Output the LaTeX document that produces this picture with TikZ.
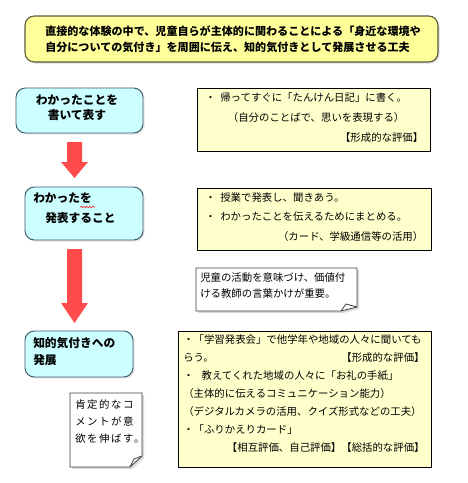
\documentclass[tikz,border=0pt]{standalone}
\usepackage{fontspec}
\newfontfamily\jp{Noto Sans CJK JP}
\usetikzlibrary{fit,shadows,decorations.pathmorphing}

\definecolor{titlefill}{HTML}{FFFF99}
\definecolor{titleline}{HTML}{5A5A3C}
\definecolor{notefill}{HTML}{FFFFCC}
\definecolor{stagefill}{HTML}{CCFFFF}
\definecolor{stageline}{HTML}{3D5866}
\definecolor{arrowred}{HTML}{FF4B4B}

\tikzset{
    titlebox/.style={draw=titleline, fill=titlefill, rounded corners=7pt, line width=0.8pt,
        inner sep=0pt, drop shadow={shadow xshift=1.2pt, shadow yshift=-1.2pt, fill=black!25}},
    stagebox/.style={draw=stageline, fill=stagefill, rounded corners=7pt, line width=0.7pt,
        inner sep=0pt, drop shadow={shadow xshift=1.2pt, shadow yshift=-1.2pt, fill=black!20}},
    notebox/.style={draw=black, fill=notefill, line width=0.6pt, inner sep=0pt},
    memo/.style={draw=black!75, fill=white, line width=0.6pt,
        drop shadow={shadow xshift=1.5pt, shadow yshift=-1.5pt, fill=black!30}},
    stagetext/.style={inner sep=0pt, font=\jp\bfseries\fontsize{8.8}{11.5}\selectfont},
    notetext/.style={inner sep=0pt, align=left, font=\jp\fontsize{7.8}{14.7}\selectfont},
    bigarrow/.style={fill=arrowred}
}

\begin{document}
\begin{tikzpicture}[x=0.75pt,y=-0.75pt]
    \useasboundingbox (0,0) rectangle (468,483);

    % title
    \node[titlebox, fit={(25,16) (438,62)}] (title) {};
    \node[inner sep=0pt, align=left, font=\jp\bfseries\fontsize{8.3}{12}\selectfont] (titletext) at (233,39)
        {直接的な体験の中で、児童自らが主体的に関わることによる「身近な環境や\\
         自分についての気付き」を周囲に伝え、知的気付きとして発展させる工夫};

    % stages on the left
    \node[stagebox, fit={(16,88) (143,133)}] (stage1) {};
    \node[stagetext, align=center] (stage1text) at (77,108) {わかったことを\\書いて表す};
    \node[stagebox, fit={(25,187) (143,240)}] (stage2) {};
    \node[stagetext, align=left, font=\jp\bfseries\fontsize{8.8}{15}\selectfont, anchor=west] (stage2text) at (33,208)
        {わかったを\\\hspace*{9pt}発表すること};
    \draw[red, line width=0.4pt, decorate, decoration={snake, amplitude=0.5pt, segment length=2.2pt}]
        (80,207) -- (95,207);
    \node[stagebox, fit={(25,331) (133,377)}] (stage3) {};
    \node[stagetext, align=left, font=\jp\bfseries\fontsize{8.8}{12.8}\selectfont, anchor=west] (stage3text) at (33,351.5)
        {知的気付きへの\\発展};

    % block arrows
    \fill[bigarrow] (67,142) -- (82,142) -- (82,162) -- (88,162) -- (74.5,178) -- (61,162) -- (67,162) -- cycle;
    \fill[bigarrow] (67,249) -- (82,249) -- (82,303) -- (88,303) -- (74.5,323) -- (61,303) -- (67,303) -- cycle;

    % notes on the right
    \node[notebox, fit={(197,88) (430,151)}] (note1) {};
    \node[notetext, text width=163.5pt, anchor=west] (note1text) at (205,117.5)
        {・\hspace{3.5pt}帰ってすぐに「たんけん日記」に書く。\\
         \hspace*{17pt}（自分のことばで、思いを表現する）\\
         \makebox[\linewidth][r]{【形成的な評価】}};

    \node[notebox, fit={(197,188) (431,250)}] (note2) {};
    \node[notetext, text width=163.5pt, anchor=west] (note2text) at (205,217)
        {・\hspace{3.5pt}授業で発表し、聞きあう。\\
         ・\hspace{3.5pt}わかったことを伝えるためにまとめる。\\
         \makebox[\linewidth][r]{（カード、学級通信等の活用）}};

    \node[notebox, fit={(178,331) (431,467)}] (note3) {};
    \node[notetext, text width=181pt, anchor=west, font=\jp\fontsize{7.8}{13.5}\selectfont] (note3text) at (183,394)
        {・「学習発表会」で他学年や地域の人々に聞いても\\
         \makebox[\linewidth][l]{らう。\hfill【形成的な評価】}\\
         ・\hspace{6pt}教えてくれた地域の人々に「お礼の手紙」\\
         （主体的に伝えるコミュニケーション能力）\\
         （デジタルカメラの活用、クイズ形式などの工夫）\\
         ・「ふりかえりカード」\\
         \makebox[\linewidth][r]{【相互評価、自己評価】【総括的な評価】}};

    % memos with folded corner
    \draw[memo] (196,268) -- (357,268) -- (357,307) -- (341,311) -- (196,311) -- cycle;
    \draw[black!75, line width=0.6pt] (341,311) -- (346,304) -- (357,307);
    \node[notetext, anchor=west, font=\jp\fontsize{7.8}{12}\selectfont] (memo1text) at (200,285.5)
        {児童の活動を意味づけ、価値付\\ける教師の言葉かけが重要。};

    \draw[memo] (70,393) -- (142,393) -- (142,456) -- (130,467) -- (70,467) -- cycle;
    \draw[black!75, line width=0.6pt] (130,467) -- (134,459) -- (142,456);
    \node[notetext, anchor=west, font=\jp\fontsize{7.8}{12.4}\selectfont\addfontfeature{LetterSpace=15}] (memo2text) at (75,421.5)
        {肯定的なコ\\メントが意\\欲を伸ばす。};
\end{tikzpicture}
\end{document}
